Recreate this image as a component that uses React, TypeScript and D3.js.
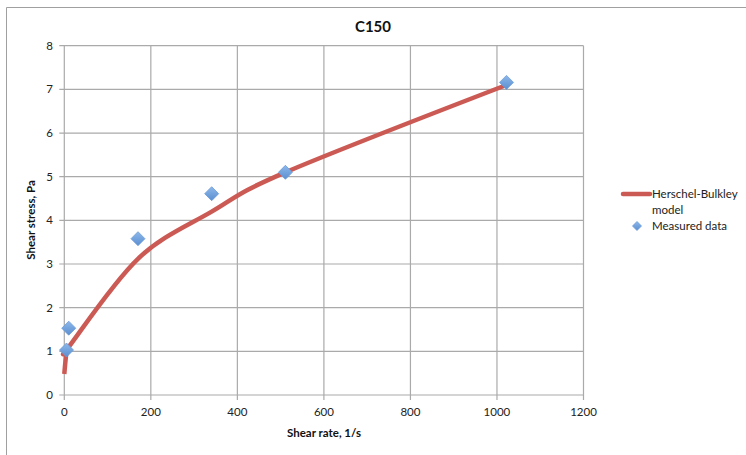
import React from "react";
import * as d3 from "d3";

const shearRate = [5.11, 10.22, 170.3, 340.6, 511, 1022];
const measuredStress = [1.03, 1.53, 3.58, 4.61, 5.1, 7.16];
const modelRate = [0, 5.11, 10.22, 170.3, 340.6, 511, 1022];
const modelStress = [0.48, 0.98, 1.1, 3.12, 4.2, 5.1, 7.1];
const xTicks = [0, 200, 400, 600, 800, 1000, 1200];
const yTicks = [0, 1, 2, 3, 4, 5, 6, 7, 8];

const W = 746;
const H = 455;
const FONT = "Lato, 'Open Sans', sans-serif";

export default function App() {
  const x = d3.scaleLinear().domain([0, 1200]).range([64.3, 583.5]);
  const y = d3.scaleLinear().domain([0, 8]).range([395, 45.7]);
  const line = d3
    .line<number>()
    .x((_, i) => x(modelRate[i]))
    .y((d) => y(d))
    .curve(d3.curveCatmullRom.alpha(0));
  const diamond = (cx: number, cy: number, r: number) =>
    `M${cx},${cy - r}L${cx + r},${cy}L${cx},${cy + r}L${cx - r},${cy}Z`;

  return (
    <svg
      width={W}
      height={H}
      style={{ position: "absolute", left: 0, top: 0 }}
      fontFamily={FONT}
    >
      <defs>
        <linearGradient id="mk" x1="0" y1="0" x2="0" y2="1">
          <stop offset="0" stopColor="#8DB8EA" />
          <stop offset="1" stopColor="#5B8FD0" />
        </linearGradient>
      </defs>
      <rect x={0} y={0} width={W} height={H} fill="#fff" />
      {/* chart frame */}
      <line x1={6.5} y1={7.5} x2={W} y2={7.5} stroke="#a0a0a0" strokeWidth={1} />
      <line x1={6.5} y1={7.5} x2={6.5} y2={H} stroke="#a0a0a0" strokeWidth={1} />

      {/* gridlines */}
      {yTicks.map((t) => (
        <line
          key={"gy" + t}
          x1={x(0) - 5}
          x2={x(1200)}
          y1={y(t)}
          y2={y(t)}
          stroke="#aaaaaa"
          strokeWidth={1.2}
        />
      ))}
      {xTicks.map((t) => (
        <line
          key={"gx" + t}
          x1={x(t)}
          x2={x(t)}
          y1={y(8)}
          y2={y(0) + 5}
          stroke="#aaaaaa"
          strokeWidth={1.2}
        />
      ))}

      {/* tick labels */}
      {yTicks.map((t) => (
        <text
          key={"ly" + t}
          x={53}
          y={y(t) + 4}
          fontSize={11.5}
          textAnchor="end"
          fill="#222"
        >
          {t}
        </text>
      ))}
      {xTicks.map((t) => (
        <text
          key={"lx" + t}
          x={x(t)}
          y={416}
          fontSize={11.5}
          textAnchor="middle"
          fill="#222"
        >
          {t}
        </text>
      ))}

      {/* title and axis titles */}
      <text x={373} y={32} fontSize={15} fontWeight="bold" textAnchor="middle" fill="#111">
        C150
      </text>
      <text x={324} y={437} fontSize={11.5} fontWeight="bold" textAnchor="middle" fill="#111">
        Shear rate, 1/s
      </text>
      <text
        transform={`translate(35,${220}) rotate(-90)`}
        fontSize={11.5}
        fontWeight="bold"
        textAnchor="middle"
        fill="#111"
      >
        Shear stress, Pa
      </text>

      {/* model line */}
      <path
        d={line(modelStress) || ""}
        fill="none"
        stroke="#CC5A54"
        strokeWidth={4.5}
        strokeLinejoin="round"
      />

      {/* measured points */}
      {measuredStress.map((v, i) => (
        <path
          key={"p" + i}
          d={diamond(x(shearRate[i]), y(v), 7)}
          fill="url(#mk)"
          stroke="#6A9BD8"
          strokeWidth={0.8}
        />
      ))}

      {/* legend */}
      <line x1={623} x2={650} y1={194} y2={194} stroke="#CC5A54" strokeWidth={4.5} strokeLinecap="round" />
      <text x={652} y={198} fontSize={11.5} fill="#222">
        Herschel-Bulkley
      </text>
      <text x={652} y={214} fontSize={11.5} fill="#222">
        model
      </text>
      <path d={diamond(637, 226, 4.5)} fill="url(#mk)" stroke="#6A9BD8" strokeWidth={0.8} />
      <text x={652} y={230} fontSize={11.5} fill="#222">
        Measured data
      </text>
    </svg>
  );
}
